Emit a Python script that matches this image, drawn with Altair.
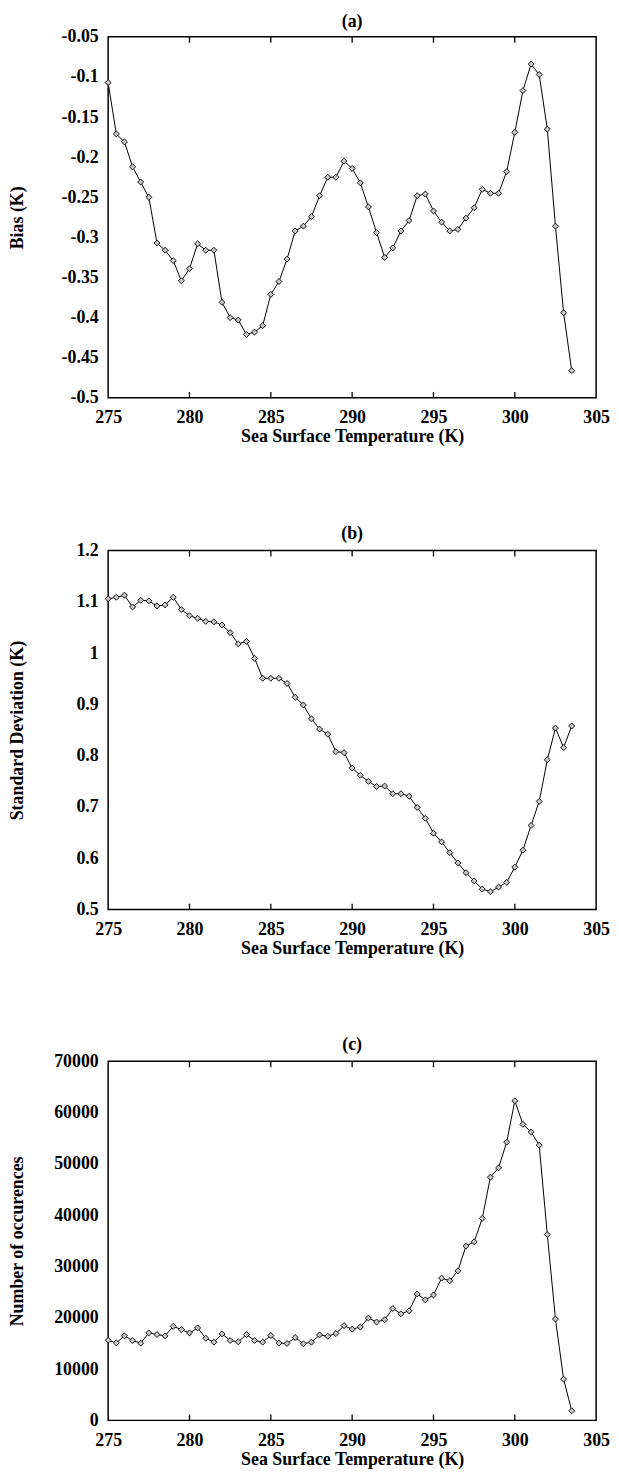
import altair as alt
import pandas as pd

# ---------------- data ----------------
SST = [275.0, 275.5, 276.0, 276.5, 277.0, 277.5, 278.0, 278.5, 279.0, 279.5,
       280.0, 280.5, 281.0, 281.5, 282.0, 282.5, 283.0, 283.5, 284.0, 284.5,
       285.0, 285.5, 286.0, 286.5, 287.0, 287.5, 288.0, 288.5, 289.0, 289.5,
       290.0, 290.5, 291.0, 291.5, 292.0, 292.5, 293.0, 293.5, 294.0, 294.5,
       295.0, 295.5, 296.0, 296.5, 297.0, 297.5, 298.0, 298.5, 299.0, 299.5,
       300.0, 300.5, 301.0, 301.5, 302.0, 302.5, 303.0, 303.5]

BIAS = [-0.107, -0.171, -0.181, -0.212, -0.231, -0.250, -0.307, -0.316, -0.329, -0.354,
        -0.339, -0.308, -0.316, -0.316, -0.381, -0.400, -0.403, -0.421, -0.418, -0.410,
        -0.371, -0.355, -0.327, -0.292, -0.286, -0.274, -0.248, -0.225, -0.225, -0.205,
        -0.214, -0.232, -0.262, -0.294, -0.325, -0.313, -0.292, -0.279, -0.248, -0.246,
        -0.267, -0.281, -0.292, -0.290, -0.276, -0.263, -0.240, -0.245, -0.245, -0.218,
        -0.169, -0.117, -0.084, -0.097, -0.165, -0.286, -0.394, -0.466]

STD = [1.106, 1.109, 1.113, 1.090, 1.103, 1.102, 1.092, 1.094, 1.109, 1.085,
       1.073, 1.068, 1.062, 1.061, 1.055, 1.040, 1.018, 1.023, 0.990, 0.951,
       0.951, 0.951, 0.941, 0.914, 0.899, 0.872, 0.852, 0.842, 0.808, 0.806,
       0.776, 0.762, 0.750, 0.740, 0.741, 0.726, 0.726, 0.721, 0.699, 0.678,
       0.649, 0.632, 0.611, 0.591, 0.572, 0.556, 0.540, 0.535, 0.544, 0.553,
       0.583, 0.616, 0.664, 0.711, 0.792, 0.854, 0.816, 0.858]

COUNT = [15637, 15122, 16474, 15573, 15058, 17053, 16731, 16474, 18340, 17696,
         17053, 18018, 16023, 15251, 16860, 15573, 15315, 16731, 15573, 15251,
         16538, 15058, 14994, 16152, 14929, 15251, 16667, 16409, 16924, 18468,
         17761, 18211, 19949, 19176, 19627, 21815, 20785, 21364, 24646, 23488,
         24453, 27735, 27220, 29151, 33977, 34813, 39382, 47426, 49228, 54247,
         62291, 57722, 56242, 53668, 36229, 19755, 8044, 1866]

X_TICKS = [275, 280, 285, 290, 295, 300, 305]
X_INNER_TICKS = [280, 285, 290, 295, 300]
BIAS_TICKS = [-0.5, -0.45, -0.4, -0.35, -0.3, -0.25, -0.2, -0.15, -0.1, -0.05]
STD_TICKS = [0.5, 0.6, 0.7, 0.8, 0.9, 1.0, 1.1, 1.2]
COUNT_TICKS = [0, 10000, 20000, 30000, 40000, 50000, 60000, 70000]

X_TITLE = "Sea Surface Temperature (K)"
FONT = "Liberation Serif"

df = pd.DataFrame({"sst": SST, "bias": BIAS, "std": STD, "count": COUNT})
ticks_df = pd.DataFrame({"sst": X_INNER_TICKS})

W = 492
LABEL_EXPR = "replace(format(datum.value, '~g'), '\u2212', '-')"


def panel(col, ytitle, yticks, ydomain, title, height, title_offset, label_expr=None, fmt=None):
    yaxis_kwargs = dict(values=yticks, title=ytitle, ticks=False, tickSize=0, domain=False,
                        grid=False, labelPadding=10, titleX=-82, labelFlush=False,
                        labelOverlap=False)
    if label_expr:
        yaxis_kwargs["labelExpr"] = label_expr
    if fmt:
        yaxis_kwargs["format"] = fmt
    x = alt.X("sst:Q",
              scale=alt.Scale(domain=[275, 305], nice=False, zero=False),
              axis=alt.Axis(values=X_TICKS, format="d", title=X_TITLE, ticks=False,
                            tickSize=0, domain=False, grid=False, labelPadding=11,
                            titlePadding=1, labelFlush=False, labelOverlap=False))
    y = alt.Y(f"{col}:Q", scale=alt.Scale(domain=ydomain, nice=False, zero=False),
              axis=alt.Axis(**yaxis_kwargs))
    base = alt.Chart(df).encode(x=x, y=y)
    line = base.mark_line(color="black", strokeWidth=1)
    pts = base.mark_point(shape="diamond", size=36, filled=True, fill="#c8c8c8",
                          stroke="#111111", strokeWidth=1, opacity=1)
    top_ticks = alt.Chart(ticks_df).mark_rule(color="black", strokeWidth=1.3).encode(
        x="sst:Q", y=alt.value(0), y2=alt.value(6))
    bot_ticks = alt.Chart(ticks_df).mark_rule(color="black", strokeWidth=1.3).encode(
        x="sst:Q", y=alt.value(height), y2=alt.value(height - 6))
    return alt.layer(line, pts, top_ticks, bot_ticks).properties(
        width=W, height=height,
        title=alt.Title(title, offset=title_offset, anchor="middle"))


pa = panel("bias", "Bias (K)", BIAS_TICKS, [-0.5, -0.05], "(a)", 364, -3, label_expr=LABEL_EXPR)
pb = panel("std", "Standard Deviation (K)", STD_TICKS, [0.5, 1.2], "(b)", 362, -1, label_expr=LABEL_EXPR)
pc = panel("count", "Number of occurences", COUNT_TICKS, [0, 70000], "(c)", 362, -2, fmt="d")

chart = alt.vconcat(pa, pb, pc, spacing=78).configure_view(
    stroke="black", strokeWidth=1.5
).configure_axis(
    labelFont=FONT, titleFont=FONT, labelFontSize=18, titleFontSize=18,
    labelFontWeight="bold", titleFontWeight="bold",
    labelColor="black", titleColor="black"
).configure_title(
    font=FONT, fontSize=18, fontWeight="bold", color="black"
).properties(
    padding={"top": -2, "bottom": 0, "left": 0, "right": 0},
    background="white"
)

chart.save("out.html", embed_options={"renderer": "svg", "actions": False})
